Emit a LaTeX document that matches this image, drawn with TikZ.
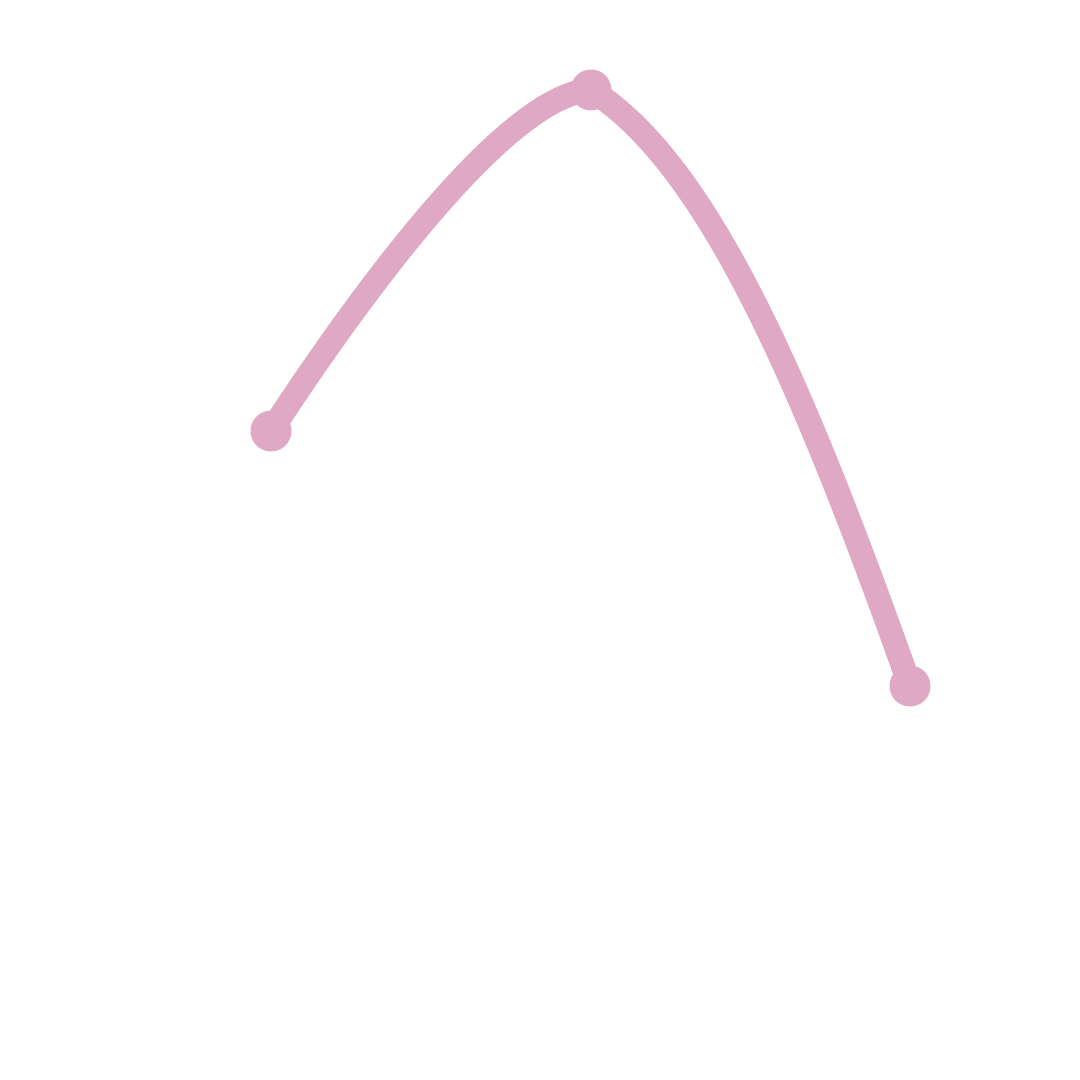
\documentclass[tikz,border=0pt]{standalone}
\usepackage{xcolor}
\usepackage{tikz}
\usetikzlibrary{positioning}

\definecolor{rosepink}{RGB}{223,169,198}

\begin{document}
\begin{tikzpicture}[
    dot/.style={circle, fill=rosepink, draw=none, minimum size=0.41cm, inner sep=0pt},
    curve/.style={draw=rosepink, line width=0.24cm, line cap=round}
  ]
    \useasboundingbox (0,0) rectangle (10.8,10.8);
    \node[dot] (left) at (2.71,6.49) {};
    \node[dot] (top) at (5.91,9.90) {};
    \node[dot] (right) at (9.10,3.94) {};
    \draw[curve] (left.center) .. controls (3.40,7.55) and (5.00,9.85) .. (top.center);
    \draw[curve] (top.center) .. controls (7.10,9.15) and (8.05,6.90) .. (right.center);
  \end{tikzpicture}
\end{document}
